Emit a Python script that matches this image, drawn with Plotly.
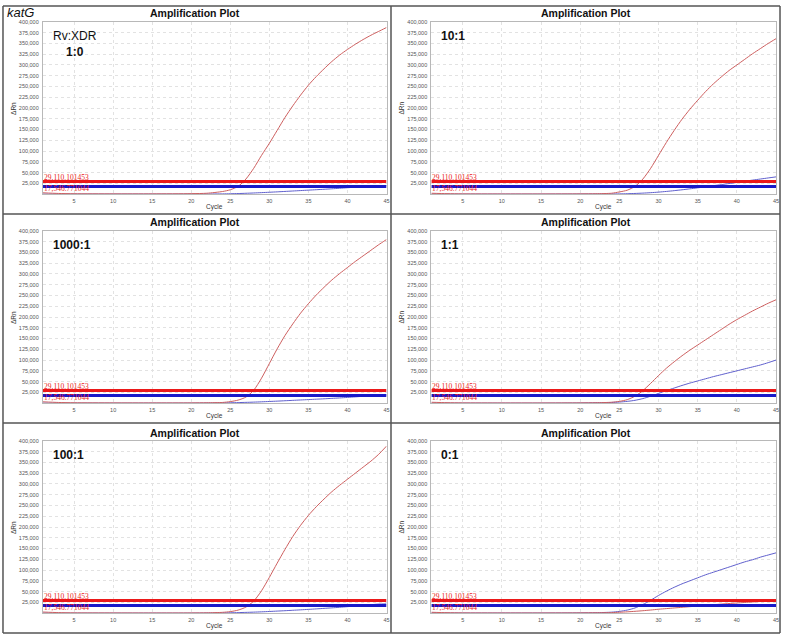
import plotly.graph_objects as go

# ---------------- data ----------------
cycles = [1, 3, 5, 10, 15, 20, 22, 24, 25, 26, 27, 28, 29, 30, 31, 32, 33, 34, 35,
          36, 37, 38, 39, 40, 41, 42, 43, 44, 45]

panel_labels = ["Rv:XDR<br><b>1:0</b>", "<b>10:1</b>", "<b>1000:1</b>", "<b>1:1</b>", "<b>100:1</b>", "<b>0:1</b>"]

red_1_0 = [3000, 1500, 800, 500, 500, 1000, 2000, 6000, 10000, 18000, 35000, 60000, 90000, 118000,
           148000, 178000, 205000, 230000, 253000, 273000, 291000, 308000, 323000, 336000, 348000,
           359000, 369000, 378000, 387000]
blue_1_0 = [0, 0, 0, 0, 0, 0, 200, 500, 800, 1300, 1900, 2600, 3400, 4300, 5200, 6200, 7200, 8200,
            9200, 10200, 11200, 12300, 13500, 14800, 16000, 17200, 18300, 19000, 19500]

red_10_1 = [2000, 1000, 500, 300, 300, 500, 800, 2000, 5000, 9000, 18000, 35000, 60000, 90000,
            120000, 148000, 174000, 197000, 218000, 238000, 256000, 272000, 287000, 300000, 313000,
            326000, 338000, 350000, 361000]
blue_10_1 = [0, 0, 0, 0, 0, 200, 300, 400, 500, 900, 1500, 2300, 3300, 4600, 6200, 8000, 10000,
             12200, 14500, 17000, 19500, 22000, 24500, 27000, 29800, 32500, 35000, 37500, 40000]

red_1000_1 = [3000, 1500, 800, 500, 400, 500, 800, 1500, 3500, 7000, 14000, 30000, 58000, 92000,
              126000, 157000, 184000, 209000, 231000, 251000, 269000, 286000, 301000, 315000,
              329000, 342000, 355000, 368000, 380000]
blue_1000_1 = [0, 0, 0, 0, 0, 0, 200, 500, 800, 1200, 1700, 2300, 3000, 3800, 4600, 5500, 6400,
               7300, 8200, 9100, 10000, 11000, 12000, 13200, 14500, 15800, 17000, 18000, 18800]

red_1_1 = [2000, 1000, 500, 300, 300, 500, 800, 2000, 4000, 8000, 16000, 29000, 46000, 64000,
           81000, 96000, 110000, 123000, 135000, 147000, 159000, 171000, 183000, 194000, 204000,
           214000, 223000, 232000, 240000]
blue_1_1 = [0, 0, 0, 0, 0, 300, 800, 1500, 2500, 4000, 6500, 10500, 16000, 22500, 29000, 35000,
            41000, 46500, 51500, 56500, 61500, 66000, 70500, 75000, 79500, 84000, 88500, 94000,
            100000]

red_100_1 = [2500, 1200, 600, 400, 300, 400, 700, 1800, 3500, 7000, 14000, 28000, 52000, 83000,
             116000, 148000, 178000, 204000, 227000, 247000, 265000, 282000, 297000, 311000,
             325000, 339000, 353000, 369000, 388000]
blue_100_1 = [0, 0, 0, 0, 0, 0, 200, 500, 800, 1200, 1700, 2300, 3000, 3800, 4700, 5600, 6600,
              7600, 8700, 9800, 11000, 12200, 13500, 15000, 16500, 18000, 19500, 21000, 21500]

red_0_1 = [2000, 1000, 500, 300, 300, 500, 800, 1200, 2000, 3000, 4200, 5600, 7200, 9000, 10500,
           12000, 13500, 15000, 16500, 18000, 19500, 21000, 22300, 23500, 24700, 25900, 27000,
           28200, 29500]
blue_0_1 = [500, 300, 200, 200, 200, 500, 900, 2200, 4000, 7000, 12000, 20000, 30000, 41000, 51000,
            60000, 68000, 75000, 82000, 89000, 95000, 101000, 107000, 113000, 119000, 124000,
            130000, 135000, 140000]

red_series = [red_1_0, red_10_1, red_1000_1, red_1_1, red_100_1, red_0_1]
blue_series = [blue_1_0, blue_10_1, blue_1000_1, blue_1_1, blue_100_1, blue_0_1]

red_threshold = 29110.101453
blue_threshold = 17546.771044
red_threshold_label = "29,110.101453"
blue_threshold_label = "17,546.771044"

y_ticks = list(range(25000, 400001, 25000))
x_ticks = [5, 10, 15, 20, 25, 30, 35, 40, 45]

# ---------------- layout geometry ----------------
W, H = 787, 638
col_px = [(43, 388), (433, 779)]
row_px = [(19, 192), (229, 402), (440, 613)]
title_py = [10, 220, 432]
panel_cx = [196, 588]

def px_x(p):
    return p / W

def px_y(p):
    return 1 - p / H

RED_CURVE = "rgb(205,95,95)"
BLUE_CURVE = "rgb(95,95,205)"
RED_TH = "rgb(235,25,25)"
BLUE_TH = "rgb(25,25,200)"
SANS = "Liberation Sans, Arial"
SERIF = "Liberation Serif, Times New Roman"

fig = go.Figure()
annotations = []
layout_axes = {}

for i in range(6):
    r, c = divmod(i, 2)
    n = i + 1
    xa = "x" if n == 1 else f"x{n}"
    ya = "y" if n == 1 else f"y{n}"
    xkey = "xaxis" if n == 1 else f"xaxis{n}"
    ykey = "yaxis" if n == 1 else f"yaxis{n}"
    x0, x1 = col_px[c]
    y0, y1 = row_px[r]
    layout_axes[xkey] = dict(
        domain=[px_x(x0), px_x(x1)], anchor=ya, range=[1, 45],
        tickvals=x_ticks, ticks="", showgrid=True, gridcolor="#e2e2e2", griddash="dot",
        gridwidth=1, zeroline=False, showline=True, linecolor="#b8b8b8", mirror=True,
        tickfont=dict(family=SANS, size=5.5, color="#555"),
        ticklabelstandoff=1, ticklabeloverflow="allow",
    )
    layout_axes[ykey] = dict(
        domain=[px_y(y1), px_y(y0)], anchor=xa, range=[0, 400000],
        tickvals=y_ticks, tickformat=",d", ticks="", showgrid=True, gridcolor="#e2e2e2",
        griddash="dot", gridwidth=1, zeroline=False, showline=True, linecolor="#b8b8b8",
        mirror=True, tickfont=dict(family=SANS, size=5.5, color="#555"),
        ticklabelstandoff=2,
    )

    fig.add_trace(go.Scatter(x=cycles, y=blue_series[i], mode="lines", xaxis=xa, yaxis=ya,
                             line=dict(color=BLUE_CURVE, width=1, shape="spline", smoothing=0.7),
                             showlegend=False, hoverinfo="skip"))
    fig.add_trace(go.Scatter(x=cycles, y=red_series[i], mode="lines", xaxis=xa, yaxis=ya,
                             line=dict(color=RED_CURVE, width=1, shape="spline", smoothing=0.7),
                             showlegend=False, hoverinfo="skip"))
    fig.add_trace(go.Scatter(x=[1, 45], y=[blue_threshold, blue_threshold], mode="lines",
                             xaxis=xa, yaxis=ya, line=dict(color=BLUE_TH, width=3),
                             showlegend=False, hoverinfo="skip"))
    fig.add_trace(go.Scatter(x=[1, 45], y=[red_threshold, red_threshold], mode="lines",
                             xaxis=xa, yaxis=ya, line=dict(color=RED_TH, width=3),
                             showlegend=False, hoverinfo="skip"))

    # threshold labels (stacked: one above the red line, one just below it)
    annotations.append(dict(x=1, y=red_threshold, xref=xa, yref=ya, text=red_threshold_label,
                            showarrow=False, xanchor="left", yanchor="bottom", yshift=-1.5,
                            borderpad=0,
                            font=dict(family=SERIF, size=7.5, color=RED_TH)))
    annotations.append(dict(x=1, y=red_threshold, xref=xa, yref=ya, text=blue_threshold_label,
                            showarrow=False, xanchor="left", yanchor="top", yshift=-1.5,
                            borderpad=0,
                            font=dict(family=SERIF, size=7.5, color=RED_TH)))

    # panel title
    annotations.append(dict(x=px_x(panel_cx[c]), y=px_y(title_py[r]), xref="paper", yref="paper",
                            text="<b>Amplification Plot</b>", showarrow=False, xanchor="center",
                            yanchor="middle", borderpad=0,
                            font=dict(family=SANS, size=10.5, color="#111")))
    # axis titles
    annotations.append(dict(x=px_x((x0 + x1) / 2), y=px_y(y1 + 13), xref="paper", yref="paper",
                            text="Cycle", showarrow=False, xanchor="center", yanchor="middle",
                            borderpad=0,
                            font=dict(family=SANS, size=6.5, color="#333")))
    annotations.append(dict(x=px_x(x0 - 30), y=px_y((y0 + y1) / 2), xref="paper", yref="paper",
                            text="ΔRn", showarrow=False, xanchor="center", yanchor="middle",
                            textangle=-90, borderpad=0,
                            font=dict(family=SANS, size=6.5, color="#333")))
    # panel label
    annotations.append(dict(x=px_x(x0 + 9), y=px_y(y0 + 6), xref="paper", yref="paper",
                            text=panel_labels[i], showarrow=False, xanchor="left", yanchor="top",
                            align="center", borderpad=0,
                            font=dict(family=SANS, size=12, color="#111")))

annotations.append(dict(x=px_x(6), y=px_y(10), xref="paper", yref="paper", text="<i>katG</i>",
                        showarrow=False, xanchor="left", yanchor="middle", borderpad=0,
                        font=dict(family=SANS, size=13, color="#111")))

# panel borders
shapes = []
border = dict(color="#555", width=1.5)
for xp in [3, 392.5, 783]:
    shapes.append(dict(type="line", xref="paper", yref="paper", x0=px_x(xp), x1=px_x(xp),
                       y0=px_y(3), y1=px_y(633), line=border))
for yp in [3, 212, 422, 633]:
    shapes.append(dict(type="line", xref="paper", yref="paper", x0=px_x(3), x1=px_x(783),
                       y0=px_y(yp), y1=px_y(yp), line=border))

fig.update_layout(width=W, height=H, margin=dict(l=0, r=0, t=0, b=0),
                  paper_bgcolor="white", plot_bgcolor="white",
                  annotations=annotations, shapes=shapes, showlegend=False, **layout_axes)

fig.write_html("out.html", config={"displayModeBar": False},
               post_script="document.body.style.margin='0';document.body.style.overflow='hidden';")
